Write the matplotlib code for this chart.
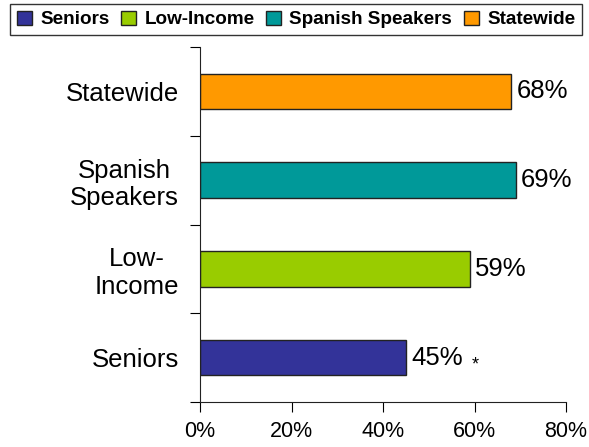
import matplotlib.pyplot as plt
from matplotlib.patches import Patch

# Data
groups = ['Seniors', 'Low-Income', 'Spanish Speakers', 'Statewide']
axis_labels = ['Seniors', 'Low-\nIncome', 'Spanish\nSpeakers', 'Statewide']
values = [45, 59, 69, 68]
colors = ['#333399', '#99CC00', '#009999', '#FF9900']
xticks = [0, 20, 40, 60, 80]

plt.rcParams['font.family'] = ['Liberation Sans', 'DejaVu Sans']

fig = plt.figure(figsize=(5.89, 4.47), dpi=100)
ax = fig.add_axes([200 / 589, 1 - 402 / 447, 366 / 589, 355 / 447])

ypos = list(range(len(groups)))
ax.barh(ypos, values, height=0.4, color=colors, edgecolor='#222222', linewidth=1)

labels = []
for y, v in zip(ypos, values):
    labels.append(ax.text(v + 1.2, y, f'{v}%', va='center', ha='left', fontsize=18.5))
# significance marker on seniors
ax.annotate('*', xy=(1, 0.2), xycoords=labels[0], xytext=(6, 0),
            textcoords='offset points', va='center', ha='left', fontsize=13)

ax.set_xlim(0, 80)
ax.set_ylim(-0.5, len(groups) - 0.5)
ax.set_xticks(xticks)
ax.set_xticklabels([f'{t}%' for t in xticks], fontsize=15.5)
ax.set_yticks([y - 0.5 for y in ypos] + [len(groups) - 0.5])
ax.set_yticklabels([])
ax.set_yticks(ypos, minor=True)
ax.set_yticklabels(axis_labels, minor=True, fontsize=18.5, ha='right',
                   multialignment='center')
ax.tick_params(axis='y', which='minor', length=0, pad=15)
ax.tick_params(axis='y', which='major', length=7, direction='out')
ax.tick_params(axis='x', length=7, direction='out', pad=7)

for s in ['top', 'right']:
    ax.spines[s].set_visible(False)
for s in ['left', 'bottom']:
    ax.spines[s].set_color('#222222')

handles = [Patch(facecolor=c, edgecolor='#222222', label=g) for g, c in zip(groups, colors)]
leg = fig.legend(handles=handles, loc='upper left', bbox_to_anchor=(10 / 589, 1 - 4 / 447),
                 ncol=4, frameon=True, fancybox=False, handlelength=0.8, handleheight=0.8,
                 handletextpad=0.45, columnspacing=0.6, borderpad=0.35, borderaxespad=0,
                 prop={'weight': 'bold', 'size': 13.6})
leg.get_frame().set_edgecolor('black')
leg.get_frame().set_linewidth(1)

fig.savefig('out.png', dpi=100)
